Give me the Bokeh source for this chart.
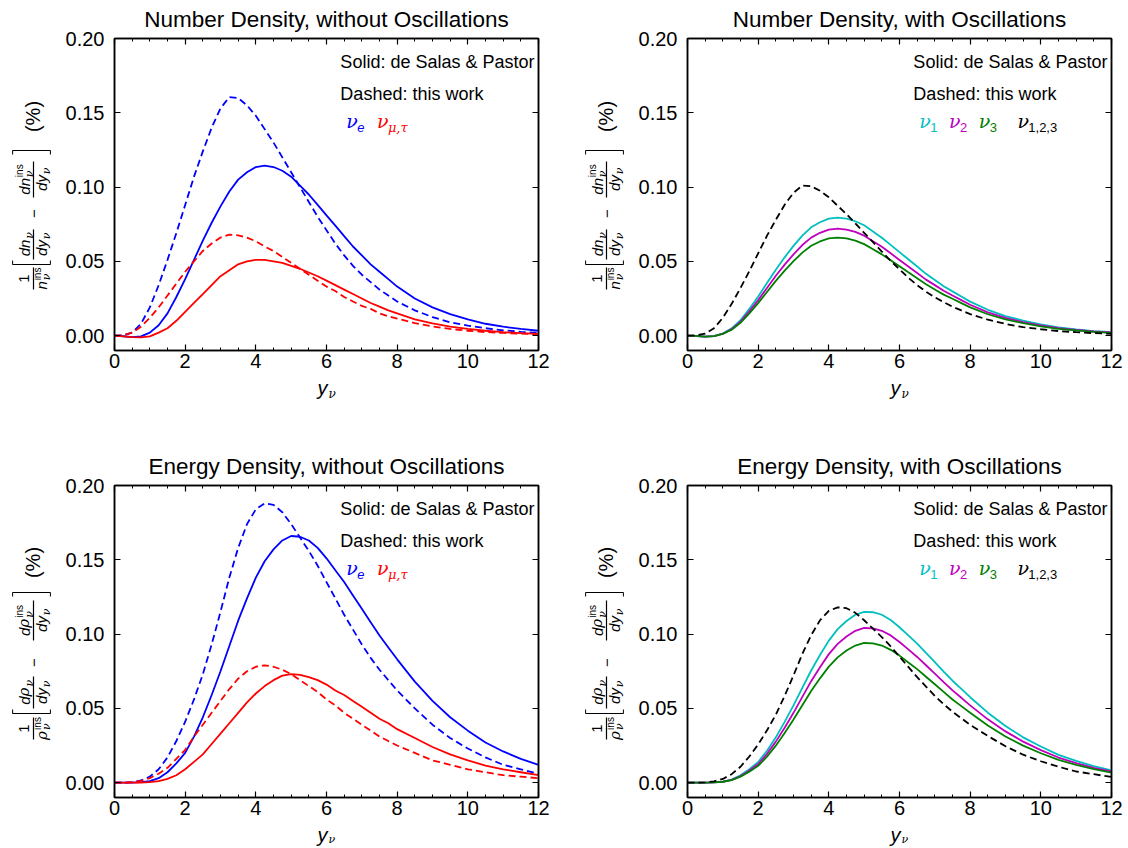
import math
from bokeh.plotting import figure
from bokeh.models import Range1d, Label, LinearAxis, FixedTicker, PrintfTickFormatter
from bokeh.layouts import column, row
from bokeh.core.properties import value
from bokeh.embed import file_html
from bokeh.resources import INLINE

# ---------------- data ----------------
y_nu = [0.0, 0.25, 0.5, 0.75, 1.0, 1.25, 1.5, 1.75, 2.0, 2.25, 2.5, 2.75, 3.0, 3.25, 3.5, 3.75,
        4.0, 4.25, 4.5, 4.75, 5.0, 5.25, 5.5, 5.75, 6.0, 6.25, 6.5, 6.75, 7.0, 7.25, 7.5, 7.75,
        8.0, 8.5, 9.0, 9.5, 10.0, 10.5, 11.0, 11.5, 12.0]

# Number density, without oscillations
n_e_solid = [0, -0.0004, -0.001, -0.0005, 0.002, 0.007, 0.015, 0.026, 0.038, 0.051, 0.064, 0.076,
             0.087, 0.097, 0.105, 0.110, 0.1135, 0.1145, 0.1135, 0.111, 0.107, 0.101, 0.095, 0.088,
             0.081, 0.074, 0.067, 0.060, 0.054, 0.048, 0.043, 0.038, 0.033,
             0.025, 0.019, 0.0145, 0.011, 0.008, 0.006, 0.0045, 0.0033]
n_e_dash = [0, 0.0003, 0.002, 0.008, 0.019, 0.034, 0.051, 0.069, 0.088, 0.107, 0.124, 0.140,
            0.153, 0.1605, 0.160, 0.155, 0.148, 0.139, 0.130, 0.120, 0.110, 0.100, 0.090, 0.080,
            0.071, 0.062, 0.054, 0.047, 0.041, 0.036, 0.031, 0.027, 0.023,
            0.017, 0.0125, 0.009, 0.0068, 0.005, 0.0036, 0.0026, 0.0019]
n_mt_solid = [0, -0.0005, -0.001, -0.0012, -0.0005, 0.002, 0.005, 0.010, 0.016, 0.022, 0.028, 0.034,
              0.040, 0.044, 0.048, 0.050, 0.051, 0.051, 0.050, 0.049, 0.047, 0.045, 0.0425, 0.040,
              0.037, 0.034, 0.031, 0.028, 0.025, 0.022, 0.0195, 0.017, 0.015,
              0.011, 0.0083, 0.006, 0.0045, 0.0033, 0.0024, 0.0017, 0.0012]
n_mt_dash = [0, 0.0003, 0.002, 0.006, 0.012, 0.019, 0.027, 0.035, 0.043, 0.050, 0.057, 0.062,
             0.066, 0.068, 0.0675, 0.066, 0.0635, 0.060, 0.057, 0.053, 0.049, 0.045, 0.041, 0.037,
             0.033, 0.030, 0.026, 0.023, 0.020, 0.018, 0.015, 0.013, 0.0115,
             0.0085, 0.0062, 0.0045, 0.0033, 0.0024, 0.0018, 0.0013, 0.001]

# Number density, with oscillations
n_1 = [0, -0.0003, -0.0007, -0.0003, 0.0014, 0.0049, 0.0104, 0.018, 0.0264, 0.0354, 0.0444, 0.0527,
       0.0604, 0.0673, 0.0729, 0.0763, 0.0788, 0.0795, 0.0788, 0.077, 0.0743, 0.0701, 0.0659, 0.0611,
       0.0562, 0.0514, 0.0465, 0.0416, 0.0375, 0.0333, 0.0298, 0.0264, 0.0229,
       0.0174, 0.0132, 0.0101, 0.0076, 0.0056, 0.0042, 0.0031, 0.0023]
n_2 = [0, -0.0003, -0.0006, -0.0003, 0.0013, 0.0044, 0.0094, 0.0164, 0.0239, 0.0321, 0.0403, 0.0478,
       0.0547, 0.061, 0.066, 0.0692, 0.0714, 0.072, 0.0714, 0.0698, 0.0673, 0.0635, 0.0598, 0.0554,
       0.0509, 0.0465, 0.0421, 0.0377, 0.034, 0.0302, 0.027, 0.0239, 0.0208,
       0.0157, 0.012, 0.0091, 0.0069, 0.005, 0.0038, 0.0028, 0.0021]
n_3 = [0, -0.0002, -0.0006, -0.0003, 0.0012, 0.004, 0.0086, 0.015, 0.0219, 0.0294, 0.0369, 0.0438,
       0.0501, 0.0559, 0.0605, 0.0634, 0.0654, 0.066, 0.0654, 0.0639, 0.0616, 0.0582, 0.0547, 0.0507,
       0.0467, 0.0426, 0.0386, 0.0346, 0.0311, 0.0276, 0.0248, 0.0219, 0.019,
       0.0144, 0.0109, 0.0084, 0.0063, 0.0046, 0.0035, 0.0026, 0.0019]
n_123_dash = [0, 0.0002, 0.0013, 0.005, 0.012, 0.0214, 0.0321, 0.0434, 0.0554, 0.0673, 0.078, 0.0881,
              0.0962, 0.101, 0.1006, 0.0975, 0.0931, 0.0874, 0.0818, 0.0755, 0.0692, 0.0629, 0.0566,
              0.0503, 0.0447, 0.039, 0.034, 0.0296, 0.0258, 0.0226, 0.0195, 0.017, 0.0145,
              0.0107, 0.0079, 0.0057, 0.0043, 0.0031, 0.0023, 0.0017, 0.0012]

# Energy density, without oscillations
r_e_solid = [0, 0, 0, 0.0003, 0.001, 0.003, 0.007, 0.013, 0.020, 0.031, 0.044, 0.059,
             0.075, 0.092, 0.109, 0.124, 0.138, 0.149, 0.157, 0.163, 0.166, 0.1655, 0.163, 0.158,
             0.151, 0.143, 0.135, 0.126, 0.117, 0.108, 0.099, 0.091, 0.083,
             0.068, 0.055, 0.044, 0.035, 0.027, 0.021, 0.016, 0.012]
r_e_dash = [0, 0, 0.0003, 0.0015, 0.004, 0.009, 0.017, 0.028, 0.041, 0.056, 0.073, 0.093,
            0.115, 0.138, 0.158, 0.174, 0.184, 0.188, 0.187, 0.182, 0.174, 0.165, 0.156, 0.146,
            0.135, 0.124, 0.113, 0.103, 0.093, 0.084, 0.076, 0.069, 0.062,
            0.050, 0.039, 0.030, 0.023, 0.017, 0.012, 0.009, 0.006]
r_mt_solid = [0, 0, 0, 0, 0.0003, 0.001, 0.0025, 0.005, 0.009, 0.014, 0.019, 0.026,
              0.033, 0.040, 0.047, 0.054, 0.060, 0.065, 0.069, 0.072, 0.073, 0.0725, 0.071, 0.069,
              0.066, 0.062, 0.059, 0.055, 0.051, 0.047, 0.043, 0.040, 0.036,
              0.030, 0.024, 0.019, 0.015, 0.0115, 0.009, 0.007, 0.005]
r_mt_dash = [0, 0, 0.0003, 0.0012, 0.003, 0.006, 0.010, 0.016, 0.022, 0.031, 0.039, 0.047,
             0.055, 0.063, 0.070, 0.075, 0.078, 0.079, 0.078, 0.076, 0.073, 0.069, 0.065, 0.061,
             0.056, 0.052, 0.047, 0.043, 0.039, 0.035, 0.031, 0.028, 0.025,
             0.020, 0.015, 0.012, 0.009, 0.007, 0.005, 0.004, 0.003]

# Energy density, with oscillations
r_1 = [0, 0, 0, 0.0002, 0.0007, 0.0021, 0.0049, 0.009, 0.0139, 0.0215, 0.0305, 0.0409,
       0.052, 0.0638, 0.0755, 0.0859, 0.0956, 0.1033, 0.1088, 0.113, 0.115, 0.1147, 0.113, 0.1095,
       0.1046, 0.0991, 0.0936, 0.0873, 0.0811, 0.0748, 0.0686, 0.0631, 0.0575,
       0.0471, 0.0381, 0.0305, 0.0243, 0.0187, 0.0146, 0.0111, 0.0083]
r_2 = [0, 0, 0, 0.0002, 0.0006, 0.0019, 0.0044, 0.0082, 0.0125, 0.0194, 0.0276, 0.037,
       0.047, 0.0577, 0.0683, 0.0777, 0.0865, 0.0934, 0.0984, 0.1022, 0.1041, 0.1038, 0.1022, 0.0991,
       0.0947, 0.0897, 0.0846, 0.079, 0.0734, 0.0677, 0.0621, 0.0571, 0.052,
       0.0426, 0.0345, 0.0276, 0.0219, 0.0169, 0.0132, 0.010, 0.0075]
r_3 = [0, 0, 0, 0.0002, 0.0006, 0.0017, 0.004, 0.0074, 0.0113, 0.0175, 0.0249, 0.0334,
       0.0425, 0.0521, 0.0617, 0.0702, 0.0781, 0.0843, 0.0889, 0.0923, 0.094, 0.0937, 0.0923, 0.0894,
       0.0855, 0.0809, 0.0764, 0.0713, 0.0662, 0.0611, 0.056, 0.0515, 0.047,
       0.0385, 0.0311, 0.0249, 0.0198, 0.0153, 0.0119, 0.0091, 0.0068]
r_123_dash = [0, 0, 0.0002, 0.0009, 0.0025, 0.0057, 0.0107, 0.0176, 0.0257, 0.0352, 0.0458, 0.0584,
              0.0722, 0.0867, 0.0992, 0.1093, 0.1156, 0.118, 0.1174, 0.1143, 0.1093, 0.1036, 0.098,
              0.0917, 0.0848, 0.0779, 0.071, 0.0647, 0.0584, 0.0528, 0.0477, 0.0433, 0.0389,
              0.0314, 0.0245, 0.0188, 0.0144, 0.0107, 0.0075, 0.0057, 0.0038]

titles = ["Number Density, without Oscillations", "Number Density, with Oscillations",
          "Energy Density, without Oscillations", "Energy Density, with Oscillations"]
x_ticks = [0, 2, 4, 6, 8, 10, 12]
x_minor = [0.5, 1, 1.5, 2.5, 3, 3.5, 4.5, 5, 5.5, 6.5, 7, 7.5, 8.5, 9, 9.5, 10.5, 11, 11.5]
y_ticks = [0.0, 0.05, 0.10, 0.15, 0.20]

BLUE, RED = "#0000ff", "#ff0000"
CYAN, MAGENTA, GREEN, BLACK = "#00bfbf", "#bf00bf", "#008000", "#000000"
SANS, SERIF = "Liberation Sans", "DejaVu Serif"
MID = 0.3465   # distance (in em) from the alphabetic baseline to the em-box centre

# ---------------- geometry (pixels) ----------------
XMIN, XMAX, YMIN, YMAX = 0.0, 12.0, -0.01, 0.20
FW, FH = 428, 312
W_YL, W_YR = 62, 67
BL, BR1, BR2 = 48, 30, 15
W_M1 = BL + FW + BR1            # 506
W_M2 = BL + FW + BR2            # 491
W_C1, W_C2 = W_YL + W_M1, W_YR + W_M2   # 568, 558
TOP, BOT = 38, 26
H_A = TOP + FH + BOT            # 376
H_B = 71                        # x label of the top row
H_C = TOP + FH + BOT            # 376
H_D = 23                        # x label of the bottom row


def dx(px):
    return XMIN + px * (XMAX - XMIN) / FW


def dy(py):
    return YMAX - py * (YMAX - YMIN) / FH


def lab(p, xr, yr, text, size, font=SANS, style="normal", color="black",
        align="left", base="alphabetic"):
    # label inside the plotting frame, positioned in pixels from the frame's top-left
    if base == "alphabetic":
        yr -= MID * size
        base = "middle"
    p.add_layout(Label(x=dx(xr), y=dy(yr), text=text, text_font=font,
                       text_font_size=f"{size}px", text_font_style=style,
                       text_color=color, text_align=align, text_baseline=base))


def blank(w, h, top=0, bottom=0):
    fh = h - top - bottom
    f = figure(width=w, height=h, x_range=Range1d(0, w), y_range=Range1d(0, fh),
               output_backend="svg", toolbar_location=None, x_axis_type=None,
               y_axis_type=None, min_border_left=0, min_border_right=0,
               min_border_top=top, min_border_bottom=bottom)
    f.outline_line_color = None
    f.background_fill_color = "white"
    f.border_fill_color = "white"
    return f, fh


def gtext(f, H, lx, ly, s, size, font=SANS, style="normal", color="black",
          align="left", base="alphabetic", angle=0.0):
    if base == "alphabetic":
        if angle == 0.0:
            ly -= MID * size
        else:
            lx -= MID * size
        base = "middle"
    f.text(x=[lx], y=[H - ly], text=[s], angle=angle, text_font=value(font),
           text_font_size=value(f"{size}px"), text_font_style=value(style),
           text_color=color, text_align=value(align), text_baseline=value(base))


def ylabel_fig(w, h, top, ax, cy, kind):
    f, H = blank(w, h, top, BOT)

    def put(t, v, s, size, font, style, align="left", base="alphabetic"):
        gtext(f, H, ax - v, cy - t, s, size, font, style, align=align, base=base,
              angle=math.pi / 2)

    def box(t0, t1, v0, v1):
        f.quad(left=[ax - max(v0, v1)], right=[ax - min(v0, v1)],
               bottom=[H - cy + min(t0, t1)], top=[H - cy + max(t0, t1)],
               fill_color="black", line_color=None)

    def term(tc, vb, mains, sub=False, sup=False):
        wm = sum(m[3] for m in mains)
        extra = max(6.2 if sub else 0, 12.8 if sup else 0)
        total = wm + extra + (0.8 if extra else 0)
        t = tc - total / 2
        for s, font, style, wd in mains:
            put(t, vb, s, 15, font, style)
            t += wd
        t += 0.8
        if sub:
            put(t, vb - 3.5, "ν", 11, SERIF, "italic")
        if sup:
            put(t, vb + 6.5, "ins", 10, SANS, "normal")

    def frac(tc, L, num, den):
        box(tc - L / 2, tc + L / 2, -0.6, 0.6)
        term(tc, 4.0, *num)
        term(tc, -13.5, *den)

    def bracket(tb, opening):
        box(tb - 0.5, tb + 0.5, -17, 21)
        s = 4 if opening else -4
        box(min(tb, tb + s), max(tb, tb + s), 20.4, 21.4)
        box(min(tb, tb + s), max(tb, tb + s), -17.4, -16.4)

    one = [("1", SANS, "normal", 8.3)]
    dyy = [("dy", SANS, "italic", 15.8)]
    if kind == "n":
        sym = [("n", SANS, "italic", 8.3)]
        dsym = [("dn", SANS, "italic", 16.7)]
        frac(-84, 22, (one,), (sym, True, True))
        bracket(-70, True)
        frac(-50, 30, (dsym, True, False), (dyy, True, False))
        put(-19, 0, "−", 15, SANS, "normal", align="center", base="middle")
        frac(15, 36, (dsym, True, True), (dyy, True, False))
        bracket(44, False)
        put(78, 1, "(%)", 20, SANS, "normal", align="center", base="middle")
    else:
        sym = [("ρ", SERIF, "italic", 9.2)]
        dsym = [("d", SANS, "italic", 8.3), ("ρ", SERIF, "italic", 9.2)]
        frac(-86, 22, (one,), (sym, True, True))
        bracket(-71, True)
        frac(-50, 32, (dsym, True, False), (dyy, True, False))
        put(-20, 0, "−", 15, SANS, "normal", align="center", base="middle")
        frac(22, 40, (dsym, True, True), (dyy, True, False))
        bracket(50, False)
        put(80, 1, "(%)", 20, SANS, "normal", align="center", base="middle")
    return f


def text_strip(w, h, items):
    f, H = blank(w, h)
    for it in items:
        gtext(f, H, *it[0], **it[1])
    return f


def style_axis(a, show_labels=True):
    a.major_tick_in = 6
    a.major_tick_out = 0
    a.minor_tick_in = 3
    a.minor_tick_out = 0
    a.axis_line_width = 1.5
    a.major_tick_line_width = 1.2
    a.minor_tick_line_width = 1.0
    a.axis_line_color = "black"
    a.major_tick_line_color = "black"
    a.minor_tick_line_color = "black"
    if show_labels:
        a.major_label_text_font = SANS
        a.major_label_text_font_size = "20px"
        a.major_label_text_color = "black"
    else:
        a.major_label_text_font_size = "0px"
        a.major_label_text_color = None
        a.major_label_standoff = 0


def panel(title, series, legend, width, height, br):
    p = figure(width=width, height=height, x_range=Range1d(XMIN, XMAX),
               y_range=Range1d(YMIN, YMAX), output_backend="svg", toolbar_location=None,
               min_border_left=BL, min_border_right=br, min_border_top=TOP,
               min_border_bottom=BOT, title=title)
    p.title.text_font = SANS
    p.title.text_font_size = "22.5px"
    p.title.text_font_style = "normal"
    p.title.text_color = "black"
    p.title.align = "center"
    p.title.vertical_align = "top"
    p.title.standoff = 9
    p.xgrid.visible = False
    p.ygrid.visible = False
    p.outline_line_color = "black"
    p.outline_line_width = 1.5
    p.background_fill_color = "white"
    p.border_fill_color = "white"

    xa = p.below[0]
    ya = p.left[0]
    xa.ticker = FixedTicker(ticks=x_ticks, minor_ticks=x_minor)
    ya.ticker = FixedTicker(ticks=y_ticks, minor_ticks=[])
    ya.formatter = PrintfTickFormatter(format="%.2f")
    top = LinearAxis(ticker=FixedTicker(ticks=x_ticks, minor_ticks=x_minor))
    right = LinearAxis(ticker=FixedTicker(ticks=y_ticks, minor_ticks=[]))
    p.add_layout(top, "above")
    p.add_layout(right, "right")
    style_axis(xa, True)
    style_axis(ya, True)
    style_axis(top, False)
    style_axis(right, False)
    xa.major_label_standoff = 3
    ya.major_label_standoff = 10

    for vals, color, dashed in series:
        p.line(y_nu, vals, line_color=color, line_width=1.8,
               line_dash="7 4" if dashed else "solid")

    lab(p, 228, 23, "Solid: de Salas & Pastor", 18, base="middle")
    lab(p, 228, 55, "Dashed: this work", 18, base="middle")
    for xr, sub, color, subfont, substyle in legend:
        lab(p, xr, 89, "ν", 19, font=SERIF, style="italic", color=color)
        lab(p, xr + 11, 93.5, sub, 13, font=subfont, style=substyle, color=color)
    return p


leg_no = [(234, "e", BLUE, SANS, "italic"), (265, "μ,τ", RED, SERIF, "italic")]
leg_osc = [(234, "1", CYAN, SANS, "normal"), (264, "2", MAGENTA, SANS, "normal"),
           (294, "3", GREEN, SANS, "normal"), (333, "1,2,3", BLACK, SANS, "normal")]

p1 = panel(titles[0], [(n_e_solid, BLUE, False), (n_e_dash, BLUE, True),
                       (n_mt_solid, RED, False), (n_mt_dash, RED, True)],
           leg_no, W_M1, H_A, BR1)
p2 = panel(titles[1], [(n_1, CYAN, False), (n_2, MAGENTA, False), (n_3, GREEN, False),
                       (n_123_dash, BLACK, True)],
           leg_osc, W_M2, H_A, BR2)
p3 = panel(titles[2], [(r_e_solid, BLUE, False), (r_e_dash, BLUE, True),
                       (r_mt_solid, RED, False), (r_mt_dash, RED, True)],
           leg_no, W_M1, H_C, BR1)
p4 = panel(titles[3], [(r_1, CYAN, False), (r_2, MAGENTA, False), (r_3, GREEN, False),
                       (r_123_dash, BLACK, True)],
           leg_osc, W_M2, H_C, BR2)

yl1 = ylabel_fig(W_YL, H_A, TOP, 33, 156, "n")
yl2 = ylabel_fig(W_YR, H_A, TOP, 38, 156, "n")
yl3 = ylabel_fig(W_YL, H_C, TOP, 33, 157, "r")
yl4 = ylabel_fig(W_YR, H_C, TOP, 38, 157, "r")

XY = dict(size=20, style="italic")
XN = dict(size=12, font=SERIF, style="italic")
XN2 = dict(size=11, font=SERIF, style="italic")

xl1 = text_strip(W_C1, H_B, [((317, 18.5, "y"), XY), ((328, 21.5, "ν"), XN)])
xl2 = text_strip(W_C2, H_B, [((322, 18.5, "y"), XY), ((333, 21.5, "ν"), XN)])
xl3 = text_strip(W_C1, H_D, [((317, 18.5, "y"), XY), ((328, 20.2, "ν"), XN2)])
xl4 = text_strip(W_C2, H_D, [((322, 18.5, "y"), XY), ((333, 20.2, "ν"), XN2)])

layout = column(row(yl1, p1, yl2, p2), row(xl1, xl2),
                row(yl3, p3, yl4, p4), row(xl3, xl4))
open("out.html", "w").write(file_html(layout, INLINE))
